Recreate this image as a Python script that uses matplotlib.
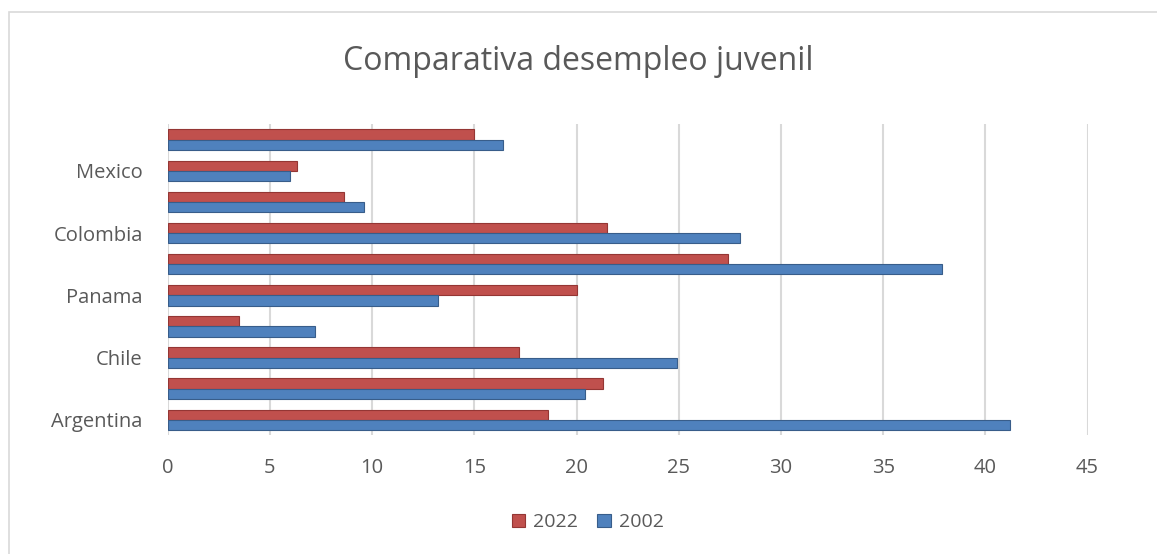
import numpy as np
import matplotlib
matplotlib.use("Agg")
import matplotlib.pyplot as plt
from matplotlib.patches import Rectangle

# categories bottom -> top; Excel only shows every other label
labels = ["Argentina", "", "Chile", "", "Panama", "", "Colombia", "", "Mexico", ""]
val_2022 = [18.6, 21.3, 17.2, 3.5, 20.0, 27.4, 21.5, 8.6, 6.3, 15.0]
val_2002 = [41.2, 20.4, 24.9, 7.2, 13.2, 37.9, 28.0, 9.6, 6.0, 16.4]
x_ticks = [0, 5, 10, 15, 20, 25, 30, 35, 40, 45]

red = "#C0504D"
blue = "#4F81BD"
text_col = "#595959"

plt.rcParams["font.family"] = ["Open Sans", "DejaVu Sans"]

fig = plt.figure(figsize=(11.57, 5.54), dpi=100)
ax = fig.add_axes([0.145, 0.214, 0.795, 0.562])

# chart border
fig.patches.append(Rectangle((0.008, -0.01), 1.0, 0.988, transform=fig.transFigure,
                             fill=False, edgecolor="#D9D9D9", linewidth=1.2))

y = np.arange(len(labels))
h = 0.33
ax.barh(y + h / 2, val_2022, height=h, color=red, edgecolor="#943634", linewidth=0.8,
        label="2022", zorder=3)
ax.barh(y - h / 2, val_2002, height=h, color=blue, edgecolor="#385D8A", linewidth=0.8,
        label="2002", zorder=3)

ax.set_xlim(0, 45)
ax.set_ylim(-0.5, len(labels) - 0.5)
ax.set_xticks(x_ticks)
ax.set_yticks(y)
ax.set_yticklabels(labels)
ax.tick_params(axis="both", length=0, labelsize=14.5, colors=text_col)
ax.tick_params(axis="x", pad=16)
ax.tick_params(axis="y", pad=18)
ax.grid(axis="x", color="#D9D9D9", linewidth=1.5, zorder=0)
for s in ax.spines.values():
    s.set_visible(False)

fig.suptitle("Comparativa desempleo juvenil", y=0.918, fontsize=23, color=text_col)

ax.legend(loc="center", bbox_to_anchor=(0.508, 0.057),
          bbox_transform=fig.transFigure, ncol=2, frameon=False, fontsize=14,
          handlelength=0.7, handleheight=0.7, handletextpad=0.4, columnspacing=1.0,
          labelcolor=text_col)

fig.savefig("out.png", dpi=100)
